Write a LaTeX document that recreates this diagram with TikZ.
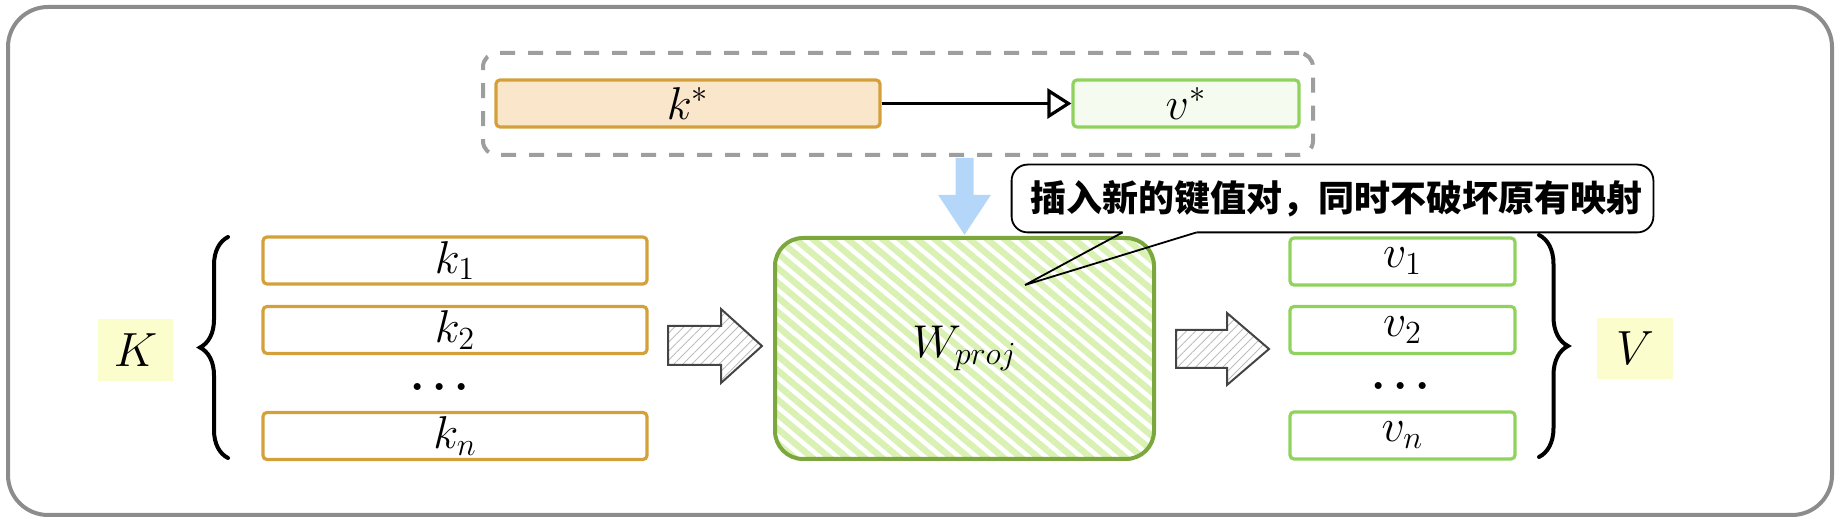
\RequirePackage{fix-cm}
\documentclass[tikz,border=0pt]{standalone}
\usepackage{fontspec}
\newfontfamily\cjk{Noto Sans CJK SC}
\usetikzlibrary{arrows.meta,patterns.meta,decorations.pathreplacing,calc}
\definecolor{kstroke}{HTML}{D4A03A}
\definecolor{kfill}{HTML}{FAE6CB}
\definecolor{vstroke}{HTML}{8FD35E}
\definecolor{vfill}{HTML}{F5FCEF}
\definecolor{wstroke}{HTML}{7BA73D}
\definecolor{wstripe}{HTML}{D9F1B3}
\definecolor{bluearrow}{HTML}{B4D7F9}
\definecolor{labelfill}{HTML}{FBFECC}
\definecolor{framegray}{HTML}{8C8C8C}
\definecolor{dashgray}{HTML}{9E9E9E}
\definecolor{hatchgray}{HTML}{BDBDBD}
\definecolor{arrowedge}{HTML}{444444}
\newcommand{\mythreedots}{${\cdot}\kern1.8pt{\cdot}\kern1.8pt{\cdot}$}
\begin{document}
\begin{tikzpicture}[x=0.5pt,y=-0.5pt,
  mfont/.style={font=\fontsize{23}{27}\selectfont},
  kbar/.style={draw=kstroke, line width=1.6pt, rounded corners=2pt, inner sep=0pt,
    minimum width=192pt, minimum height=23.5pt, mfont},
  vbar/.style={draw=vstroke, line width=1.6pt, rounded corners=2pt, inner sep=0pt,
    minimum width=112.5pt, minimum height=23.5pt, mfont},
  dotsnode/.style={inner sep=0pt, font=\fontsize{33}{35}\selectfont},
  setlabel/.style={fill=labelfill, inner sep=0pt, minimum width=37.5pt, minimum height=31pt,
    font=\fontsize{24}{28}\selectfont},
  blockarrow/.style={draw=arrowedge, line width=1pt, line join=miter,
    pattern={Lines[angle=45,distance=3.2pt,line width=0.45pt]}, pattern color=hatchgray},
  bracestyle/.style={decorate, line width=2pt, line cap=round}
]
\useasboundingbox (0,0) rectangle (1838,522);
% outer frame
\draw[framegray, line width=2pt, rounded corners=20pt] (8,7) rectangle (1832,515);

% top pair
\node[draw=dashgray, line width=2pt, dash pattern=on 7.5pt off 6.5pt, rounded corners=7pt,
  inner sep=0pt, minimum width=415pt, minimum height=51pt] (pair) at (898,104) {};
\node[kbar, fill=kfill] (kstar) at (688,103.5) {$k^*$};
\node[vbar, fill=vfill, minimum width=113pt] (vstar) at (1186,103.5) {$v^*$};
\draw[line width=1.6pt, -{Triangle[open, length=12pt, width=15pt]}] (kstar.east) -- (vstar.west);

% K column
\node[setlabel] (Klab) at (135.5,350) {$K$};
\node[kbar] (k1) at (455,260.5) {$k_1$};
\node[kbar] (k2) at (455,330) {$k_2$};
\node[dotsnode] (kdots) at (440,389) {\mythreedots};
\node[kbar] (kn) at (455,436) {$k_n$};
\draw[bracestyle, decoration={brace, amplitude=14pt}] (228,458) -- (228,237);

% W proj
\node[draw=wstroke, line width=2pt, rounded corners=14pt, inner sep=0pt,
  pattern={Lines[angle=-40,distance=5.6pt,line width=3.2pt]}, pattern color=wstripe,
  minimum width=189.5pt, minimum height=110.5pt, mfont] (wproj) at (964.5,348.5) {$W_{proj}$};

% blue arrow from pair to W
\coordinate (btop) at (pair.south -| wproj.north);
\fill[bluearrow] ($(btop)+(-9,1)$) -- ($(btop)+(9,1)$) -- ($(wproj.north)+(9,-40)$)
  -- ($(wproj.north)+(26.5,-40)$) -- (wproj.north) -- ($(wproj.north)+(-26.5,-40)$)
  -- ($(wproj.north)+(-9,-40)$) -- cycle;

% block arrows
\draw[blockarrow] (668,326) -- (721,326) -- (721,309) -- (762,346) -- (721,383) -- (721,365) -- (668,365) -- cycle;
\draw[blockarrow] (1176,330) -- (1227,330) -- (1227,313) -- (1269,349) -- (1227,385) -- (1227,368) -- (1176,368) -- cycle;

% V column
\node[vbar] (v1) at (1402.5,261.5) {$v_1$};
\node[vbar] (v2) at (1402.5,330) {$v_2$};
\node[dotsnode] (vdots) at (1401,388) {\mythreedots};
\node[vbar] (vn) at (1402.5,435.5) {$v_n$};
\draw[bracestyle, decoration={brace, amplitude=14.5pt}] (1539,235) -- (1539,457);
\node[setlabel, minimum width=38pt, minimum height=30.5pt] (Vlab) at (1635,348.5) {$V$};

% callout
\node[fill=white, inner sep=0pt, minimum width=320.5pt, minimum height=33.5pt,
  font=\cjk\bfseries\fontsize{18}{20}\selectfont] (note) at (1332.5,198.5)
  {\hspace{4pt}插入新的键值对，同时不破坏原有映射};
\coordinate (tailL) at ($(note.south west)+(111,0)$);
\coordinate (tailR) at ($(note.south west)+(185,0)$);
\coordinate (tailtip) at (1025,285);
\draw[line width=0.9pt, rounded corners=8pt] (tailL) -- (note.south west) -- (note.north west)
  -- (note.north east) -- (note.south east) -- (tailR);
\draw[line width=0.9pt, line join=miter] (tailL) -- (tailtip) -- (tailR);
\end{tikzpicture}
\end{document}
